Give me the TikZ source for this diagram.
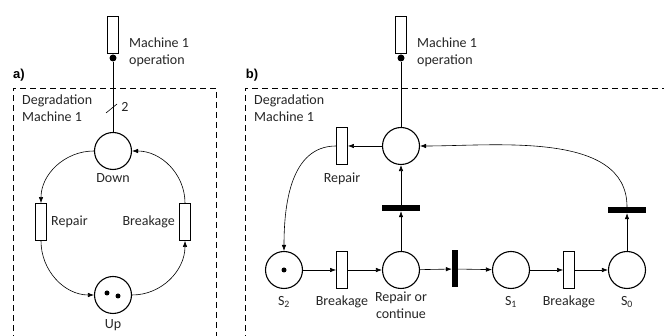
\documentclass[tikz,border=0pt]{standalone}
\usepackage{fontspec}
\setmainfont{Carlito}
\newfontfamily\labfont{Liberation Sans}
\usetikzlibrary{arrows.meta}
\definecolor{txt}{gray}{0.15}
\begin{document}
\begin{tikzpicture}[x=1pt,y=1pt,
  every node/.style={font=\fontsize{14}{17}\selectfont, inner sep=0pt, text=txt},
  place/.style={circle, draw, line width=1.1pt, minimum size=37pt},
  trans/.style={rectangle, draw, line width=0.9pt, minimum width=11pt, minimum height=37pt},
  hbar/.style={rectangle, fill=black, minimum width=38pt, minimum height=6pt},
  vbar/.style={rectangle, fill=black, minimum width=6pt, minimum height=37pt},
  tok/.style={circle, fill=black, minimum size=5pt},
  arc/.style={line width=0.6pt, -{Latex[length=6pt,width=4.5pt]}},
  plain/.style={line width=0.6pt},
  frame/.style={line width=0.9pt, dash pattern=on 6pt off 4pt},
  lbl/.style={align=left, anchor=west},
  panel/.style={font=\labfont\bfseries\fontsize{13}{14}\selectfont, text=black}
]
\useasboundingbox (0,0) rectangle (664,336);
% ---------- panel a ----------
\node[panel] (pa) at (19,261) {a)};
\draw[frame] (13,-5) -- (13,248) -- (216,248) -- (216,-5);
\node[lbl] (dega) at (22,228) {Degradation\\Machine 1};
\node[trans] (m1a) at (113,301) {};
\node[tok, minimum size=7pt] (dota) at (113,278) {};
\node[lbl] (opa) at (129,284) {Machine 1\\operation};
\node[place] (down) at (113,185) {};
\node (downl) at (113,158) {Down};
\draw[plain] (dota) -- (down);
\coordinate (t1) at (106,223);
\coordinate (t2) at (117,232);
\draw[plain] (t1) -- (t2);
\node (two) at (125,229) {2};
\node[trans] (repa) at (41,114) {};
\node[lbl] (repal) at (51,114) {Repair};
\node[trans] (brka) at (185,114) {};
\node[anchor=east] (brkal) at (175,114) {Breakage};
\node[place] (up) at (113,41) {};
\node[tok] (u1) at (107,43) {};
\node[tok] (u2) at (118,40) {};
\node (upl) at (113,11) {Up};
\draw[arc] (down.west) to[out=180,in=90] (repa.north);
\draw[arc] (repa.south) to[out=-90,in=180] (up.west);
\draw[arc] (up.east) to[out=0,in=-90] (brka.south);
\draw[arc] (brka.north) to[out=90,in=0] (down.east);
% ---------- panel b ----------
\node[panel] (pb) at (252,261) {b)};
\draw[frame] (245,-5) -- (245,248) -- (670,248);
\node[lbl] (degb) at (254,228) {Degradation\\Machine 1};
\node[trans] (m1b) at (401,301) {};
\node[tok, minimum size=7pt] (dotb) at (401,278) {};
\node[lbl] (opb) at (417,284) {Machine 1\\operation};
\node[place] (top) at (401,190) {};
\draw[plain] (dotb) -- (top);
\node[trans] (repb) at (342,190) {};
\node (repbl) at (342,157) {Repair};
\node[place] (s2) at (284,66) {};
\node[tok] (s2t) at (284,66) {};
\node (s2l) at (284,34) {S\textsubscript{2}};
\node[trans] (brk1) at (342,66) {};
\node (brk1l) at (342,34) {Breakage};
\node[place] (roc) at (401,66) {};
\node[align=center] (rocl) at (401,31) {Repair or\\continue};
\node[hbar] (bar1) at (401,128) {};
\node[vbar] (bar2) at (455,67) {};
\node[place] (s1) at (511,66) {};
\node (s1l) at (511,34) {S\textsubscript{1}};
\node[trans] (brk2) at (569,66) {};
\node (brk2l) at (569,34) {Breakage};
\node[place] (s0) at (627,66) {};
\node (s0l) at (627,34) {S\textsubscript{0}};
\node[hbar] (bar3) at (627,126) {};
\draw[arc] (top) -- (repb);
\draw[arc] (repb.west) to[out=180,in=90] (s2.north);
\draw[arc] (s2) -- (brk1);
\draw[arc] (brk1) -- (roc);
\draw[arc] (roc) -- (bar1);
\draw[arc] (bar1) -- (top);
\draw[arc] (roc) -- (bar2);
\draw[arc] (bar2) -- (s1);
\draw[arc] (s1) -- (brk2);
\draw[arc] (brk2) -- (s0);
\draw[arc] (s0) -- (bar3);
\draw[arc] (bar3.north) to[out=90,in=0,looseness=0.9] (top.east);
\end{tikzpicture}
\end{document}
